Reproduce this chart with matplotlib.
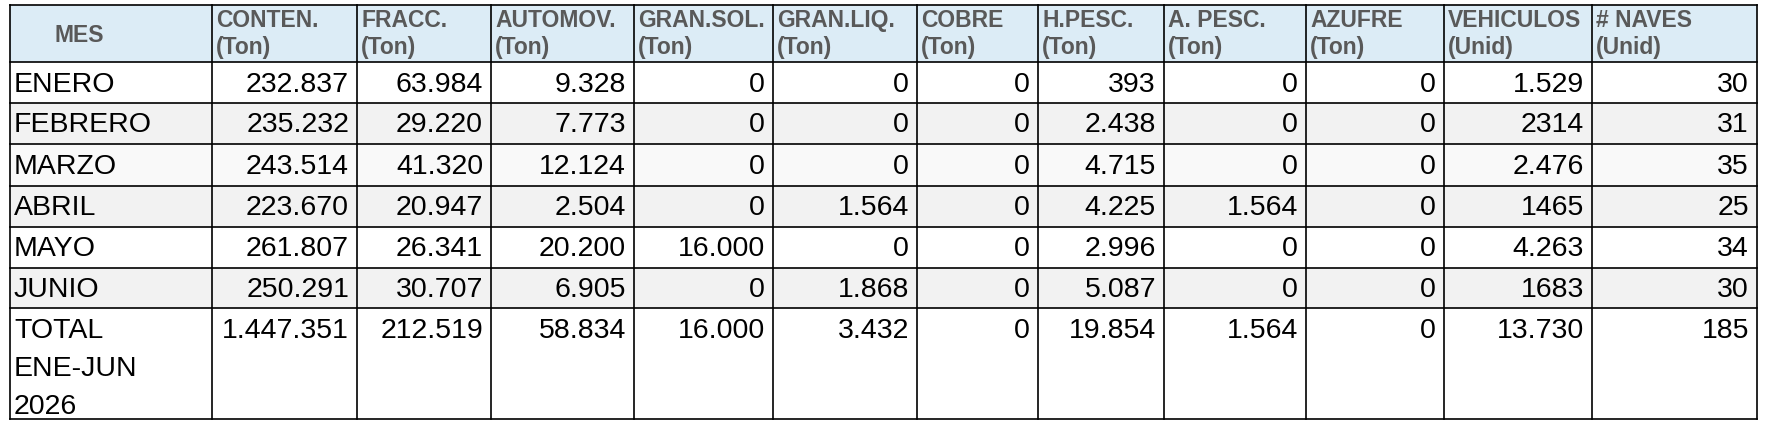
import matplotlib.pyplot as plt
from matplotlib.patches import Rectangle

plt.rcParams['font.family'] = ['Liberation Sans', 'DejaVu Sans']

# header text (two lines each)
titles = ['MES', 'CONTEN.', 'FRACC.', 'AUTOMOV.', 'GRAN.SOL.', 'GRAN.LIQ.', 'COBRE',
          'H.PESC.', 'A. PESC.', 'AZUFRE', 'VEHICULOS', '# NAVES']
units = ['', '(Ton)', '(Ton)', '(Ton)', '(Ton)', '(Ton)', '(Ton)',
         '(Ton)', '(Ton)', '(Ton)', '(Unid)', '(Unid)']

meses = ['ENERO', 'FEBRERO', 'MARZO', 'ABRIL', 'MAYO', 'JUNIO', 'TOTAL\nENE-JUN\n2026']

conten = ['232.837', '235.232', '243.514', '223.670', '261.807', '250.291', '1.447.351']
fracc = ['63.984', '29.220', '41.320', '20.947', '26.341', '30.707', '212.519']
automov = ['9.328', '7.773', '12.124', '2.504', '20.200', '6.905', '58.834']
gran_sol = ['0', '0', '0', '0', '16.000', '0', '16.000']
gran_liq = ['0', '0', '0', '1.564', '0', '1.868', '3.432']
cobre = ['0', '0', '0', '0', '0', '0', '0']
h_pesc = ['393', '2.438', '4.715', '4.225', '2.996', '5.087', '19.854']
a_pesc = ['0', '0', '0', '1.564', '0', '0', '1.564']
azufre = ['0', '0', '0', '0', '0', '0', '0']
vehiculos = ['1.529', '2314', '2.476', '1465', '4.263', '1683', '13.730']
naves = ['30', '31', '35', '25', '34', '30', '185']

columns = [conten, fracc, automov, gran_sol, gran_liq, cobre,
           h_pesc, a_pesc, azufre, vehiculos, naves]

# layout in pixels
W, H = 1767, 435
col_x = [10, 212, 357, 491, 634, 773, 917, 1038, 1164, 1306, 1444, 1592, 1757]
row_y = [6, 63, 104, 145, 187, 228, 269, 309, 420]

fig = plt.figure(figsize=(W / 100, H / 100), dpi=100)
ax = fig.add_axes([0, 0, 1, 1])
ax.set_xlim(0, W)
ax.set_ylim(H, 0)
ax.axis('off')

head_bg = '#dcecf6'
head_fg = '#595959'
row_bg = ['white', '#f2f2f2', '#f9f9f9', '#f2f2f2', 'white', '#f2f2f2', 'white']
fs_head = 16.5
fs_body = 20.5

# header
ax.add_patch(Rectangle((col_x[0], row_y[0]), col_x[-1] - col_x[0], row_y[1] - row_y[0],
                       facecolor=head_bg, edgecolor='none'))
for i, (t, u) in enumerate(zip(titles, units)):
    if i == 0:
        ax.text(54, (row_y[0] + row_y[1]) / 2 + 1, t, fontsize=fs_head, fontweight='bold',
                color=head_fg, ha='left', va='center')
        continue
    x0 = col_x[i] + 4
    ax.text(x0, 27, t, fontsize=fs_head, fontweight='bold', color=head_fg,
            ha='left', va='baseline')
    ax.text(x0, 54, u, fontsize=fs_head, fontweight='bold', color=head_fg,
            ha='left', va='baseline')

# body rows
for r, mes in enumerate(meses):
    y0, y1 = row_y[r + 1], row_y[r + 2]
    ax.add_patch(Rectangle((col_x[0], y0), col_x[-1] - col_x[0], y1 - y0,
                           facecolor=row_bg[r], edgecolor='none'))
    if r < len(meses) - 1:
        yc = (y0 + y1) / 2
        ax.text(col_x[0] + 4, yc + 1, mes, fontsize=fs_body, ha='left', va='center')
        for c, vals in enumerate(columns):
            ax.text(col_x[c + 2] - 8, yc + 1, vals[r], fontsize=fs_body,
                    ha='right', va='center')
    else:
        lines = mes.split('\n')
        for k, ln in enumerate(lines):
            ax.text(col_x[0] + 4, 338 + k * 38, ln, fontsize=fs_body,
                    ha='left', va='baseline')
        for c, vals in enumerate(columns):
            ax.text(col_x[c + 2] - 8, 338, vals[r], fontsize=fs_body,
                    ha='right', va='baseline')

# grid lines
for y in row_y:
    ax.plot([col_x[0], col_x[-1]], [y, y], color='black', lw=1.2, solid_capstyle='projecting')
for x in col_x:
    ax.plot([x, x], [row_y[0], row_y[-1]], color='black', lw=1.2, solid_capstyle='projecting')

fig.savefig('out.png', dpi=100)
